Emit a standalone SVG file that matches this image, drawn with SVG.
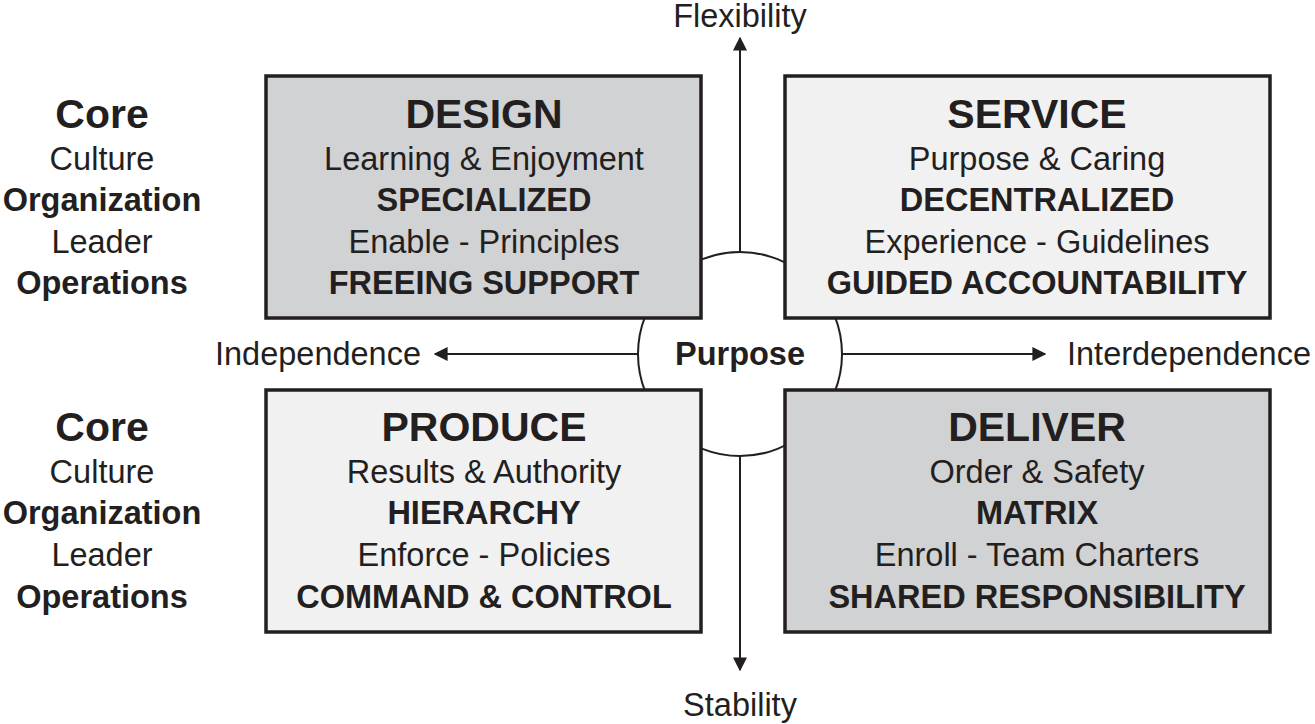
<svg xmlns="http://www.w3.org/2000/svg" width="1315" height="724" viewBox="0 0 1315 724">
<defs>
<marker id="ah" viewBox="0 0 10 10" refX="9" refY="5" markerWidth="14" markerHeight="14" markerUnits="userSpaceOnUse" orient="auto"><path d="M0,0 L10,5 L0,10 z" fill="#231f20"/></marker>
</defs>
<style>
text{font-family:"Liberation Sans",Arial,sans-serif;fill:#231f20;text-anchor:middle}
.t{font-size:41px;font-weight:bold}
.n{font-size:32.5px}
.b{font-size:32.5px;font-weight:bold}
.box{stroke:#231f20;stroke-width:3.5}
.dark{fill:#d1d2d4}
.light{fill:#f1f1f2}
.ax{stroke:#231f20;stroke-width:2;fill:none}
</style>
<rect width="1315" height="724" fill="#fff"/>
<g id="connectors">
<line class="ax" x1="740" y1="252" x2="740" y2="38" marker-end="url(#ah)"/>
<line class="ax" x1="740" y1="456" x2="740" y2="670" marker-end="url(#ah)"/>
<line class="ax" x1="638" y1="354" x2="435" y2="354" marker-end="url(#ah)"/>
<line class="ax" x1="842" y1="354" x2="1045" y2="354" marker-end="url(#ah)"/>
<text class="n" x="740" y="27">Flexibility</text>
<text class="n" x="740" y="716">Stability</text>
<text class="n" x="318" y="365">Independence</text>
<text class="n" x="1189" y="365">Interdependence</text>
</g>
<g id="purpose">
<circle cx="740" cy="354" r="102" fill="#fff" stroke="#231f20" stroke-width="2"/>
<text class="b" x="740" y="365">Purpose</text>
</g>
<g id="design">
<rect class="box dark" x="266" y="76" width="435" height="242"/>
<text class="t" x="484" y="128">DESIGN</text>
<text class="n" x="484" y="170">Learning &amp; Enjoyment</text>
<text class="b" x="484" y="211">SPECIALIZED</text>
<text class="n" x="484" y="253">Enable - Principles</text>
<text class="b" x="484" y="294">FREEING SUPPORT</text>
</g>
<g id="service">
<rect class="box light" x="785" y="76" width="485" height="242"/>
<text class="t" x="1037" y="128">SERVICE</text>
<text class="n" x="1037" y="170">Purpose &amp; Caring</text>
<text class="b" x="1037" y="211">DECENTRALIZED</text>
<text class="n" x="1037" y="253">Experience - Guidelines</text>
<text class="b" x="1037" y="294">GUIDED ACCOUNTABILITY</text>
</g>
<g id="produce">
<rect class="box light" x="266" y="390" width="435" height="242"/>
<text class="t" x="484" y="441">PRODUCE</text>
<text class="n" x="484" y="483">Results &amp; Authority</text>
<text class="b" x="484" y="524">HIERARCHY</text>
<text class="n" x="484" y="566">Enforce - Policies</text>
<text class="b" x="484" y="608">COMMAND &amp; CONTROL</text>
</g>
<g id="deliver">
<rect class="box dark" x="785" y="390" width="485" height="242"/>
<text class="t" x="1037" y="441">DELIVER</text>
<text class="n" x="1037" y="483">Order &amp; Safety</text>
<text class="b" x="1037" y="524">MATRIX</text>
<text class="n" x="1037" y="566">Enroll - Team Charters</text>
<text class="b" x="1037" y="608">SHARED RESPONSIBILITY</text>
</g>
<g id="legend-top">
<text class="t" x="102" y="128">Core</text>
<text class="n" x="102" y="170">Culture</text>
<text class="b" x="102" y="211">Organization</text>
<text class="n" x="102" y="253">Leader</text>
<text class="b" x="102" y="294">Operations</text>
</g>
<g id="legend-bottom">
<text class="t" x="102" y="441">Core</text>
<text class="n" x="102" y="483">Culture</text>
<text class="b" x="102" y="524">Organization</text>
<text class="n" x="102" y="566">Leader</text>
<text class="b" x="102" y="608">Operations</text>
</g>
</svg>
